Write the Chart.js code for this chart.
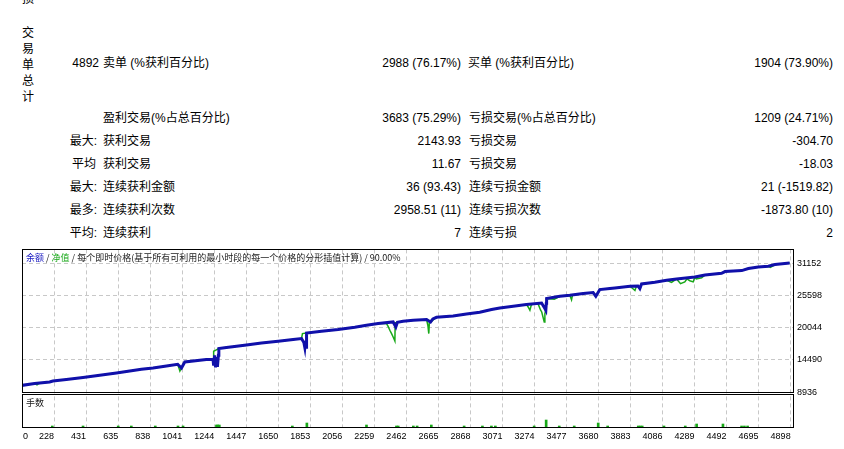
<!DOCTYPE html>
<html>
<head>
<meta charset="utf-8">
<script src="https://cdn.jsdelivr.net/npm/chart.js@4.4.1/dist/chart.umd.min.js"></script>
<style>
html,body{margin:0;padding:0;background:#fff;width:844px;height:449px;overflow:hidden;}
body{position:relative;font-family:"Liberation Sans","Noto Sans CJK SC",sans-serif;font-size:12px;color:#000;}
.t{position:absolute;white-space:nowrap;line-height:16px;}
.vert{position:absolute;left:22px;top:25px;width:12px;line-height:16px;word-break:break-all;}
#wrap{position:absolute;left:0;top:240px;width:844px;height:209px;}
.leg{position:absolute;font-family:"Noto Sans CJK SC",sans-serif;font-size:9px;line-height:11px;white-space:nowrap;color:#202020;}
</style>
</head>
<body>
<span class="t" style="left:22px;top:-9px">损</span>
<div class="vert">交易单总计</div>

<span class="t" style="right:745px;top:55px">4892</span>
<span class="t" style="left:103px;top:55px">卖单 (%获利百分比)</span>
<span class="t" style="right:383px;top:55px">2988 (76.17%)</span>
<span class="t" style="left:468px;top:55px">买单 (%获利百分比)</span>
<span class="t" style="right:11px;top:55px">1904 (73.90%)</span>

<span class="t" style="left:103px;top:110px">盈利交易(%占总百分比)</span>
<span class="t" style="right:383px;top:110px">3683 (75.29%)</span>
<span class="t" style="left:469px;top:110px">亏损交易(%占总百分比)</span>
<span class="t" style="right:11px;top:110px">1209 (24.71%)</span>

<span class="t" style="right:747px;top:133px">最大:</span>
<span class="t" style="left:103px;top:133px">获利交易</span>
<span class="t" style="right:383px;top:133px">2143.93</span>
<span class="t" style="left:469px;top:133px">亏损交易</span>
<span class="t" style="right:11px;top:133px">-304.70</span>

<span class="t" style="right:748px;top:156px">平均</span>
<span class="t" style="left:103px;top:156px">获利交易</span>
<span class="t" style="right:383px;top:156px">11.67</span>
<span class="t" style="left:469px;top:156px">亏损交易</span>
<span class="t" style="right:11px;top:156px">-18.03</span>

<span class="t" style="right:747px;top:179px">最大:</span>
<span class="t" style="left:103px;top:179px">连续获利金额</span>
<span class="t" style="right:383px;top:179px">36 (93.43)</span>
<span class="t" style="left:469px;top:179px">连续亏损金额</span>
<span class="t" style="right:11px;top:179px">21 (-1519.82)</span>

<span class="t" style="right:747px;top:202px">最多:</span>
<span class="t" style="left:103px;top:202px">连续获利次数</span>
<span class="t" style="right:383px;top:202px">2958.51 (11)</span>
<span class="t" style="left:469px;top:202px">连续亏损次数</span>
<span class="t" style="right:11px;top:202px">-1873.80 (10)</span>

<span class="t" style="right:747px;top:225px">平均:</span>
<span class="t" style="left:103px;top:225px">连续获利</span>
<span class="t" style="right:383px;top:225px">7</span>
<span class="t" style="left:469px;top:225px">连续亏损</span>
<span class="t" style="right:11px;top:225px">2</span>

<div id="wrap"><canvas id="c"></canvas></div>
<div class="leg" style="left:26px;top:252px"><span style="color:#1818c0">余额</span> / <span style="color:#18a818">净值</span> / 每个即时价格(基于所有可利用的最小时段的每一个价格的分形插值计算) / 90.00%</div>
<div class="leg" style="left:26px;top:397px">手数</div>

<script>
// ---- data ----
const xTickValues = [228,431,635,838,1041,1244,1447,1650,1853,2056,2259,2462,2665,2868,3071,3274,3477,3680,3883,4086,4289,4492,4695,4898];
const xFirstLabel = '0';
const yTickValues = [8936,14490,20044,25598,31152];

const balanceTrades = [0,105,200,221,306,412,518,624,708,782,856,941,1012,1036,1057,1194,1236,1240,1246,1252,1258,1264,1270,1273,1321,1385,1448,1543,1649,1744,1797,1812,1818,1822,1826,1829,1924,2029,2135,2209,2283,2378,2395,2405,2441,2505,2590,2615,2630,2653,2758,2843,2927,3002,3054,3139,3223,3319,3340,3346,3349,3351,3435,3498,3583,3646,3663,3688,3752,3784,3880,3930,3942,3953,4037,4112,4175,4291,4355,4460,4482,4588,4630,4693,4756,4799,4892];
const balanceValues = [10000,10407,10683,10857,11099,11445,11843,12241,12587,12881,13106,13452,13746,13106,14144,14559,14611,13500,15300,13227,15000,13300,15300,16462,16635,16860,17085,17431,17725,18019,18193,17500,16635,17800,16700,19162,19456,19750,20148,20494,20788,21065,20200,21000,21186,21359,21480,21065,21600,21878,22103,22449,22743,23210,23487,23781,24075,24352,23400,23089,24300,25113,25511,25684,25978,26151,25511,26670,26844,26947,27241,27293,26844,27639,27933,28279,28505,28851,29197,29491,29785,29958,30304,30581,30701,30996,31250];

const equityTrades = [0,105,120,130,200,221,306,412,518,624,708,782,856,941,1012,1020,1026,1036,1057,1194,1236,1240,1254,1273,1321,1385,1448,1543,1649,1744,1797,1803,1829,1924,2029,2135,2209,2283,2336,2346,2357,2368,2378,2389,2391,2395,2405,2441,2505,2590,2598,2604,2608,2615,2653,2758,2843,2927,3002,3054,3139,3223,3234,3245,3255,3297,3313,3320,3336,3340,3346,3351,3400,3420,3435,3498,3509,3515,3583,3646,3663,3688,3752,3784,3880,3911,3920,3930,3942,3953,4037,4112,4143,4175,4200,4227,4240,4259,4280,4291,4300,4334,4355,4460,4482,4588,4630,4693,4756,4770,4799,4892];
const equityValues = [10000,10407,10200,10407,10683,10857,11099,11445,11843,12241,12587,12881,13106,13452,13746,13100,12587,13106,14144,14559,14611,16000,16200,16462,16635,16860,17085,17431,17725,18019,18193,19057,19162,19456,19750,20148,20494,20788,20788,20300,19630,19050,18470,17777,21065,20200,21000,21186,21359,21480,20500,19057,21065,21065,21878,22103,22449,22743,23210,23487,23781,24075,23660,23089,24100,24200,23100,22795,21065,22500,23089,25113,25000,25300,25511,25684,24900,25700,25978,26151,25511,26670,26844,26947,27241,26500,27241,27293,26844,27639,27933,28279,27900,28505,27700,28000,28505,28200,28000,28851,28500,28700,29197,29491,29785,29958,30304,30581,30701,30500,30996,31250];

const lotTrades = [217,412,635,718,870,1014,1046,1258,1266,1276,1739,1831,2209,2399,2410,2506,2530,2620,2828,2944,3001,3026,3272,3348,3431,3526,3678,3738,3932,3944,3957,4095,4230,4302,4469,4587,4605,4625];
const lotValues = [0.1,0.1,0.1,0.1,0.1,0.1,0.1,0.2,0.2,0.2,0.1,0.4,0.2,0.1,0.1,0.1,0.1,0.2,0.1,0.1,0.1,0.1,0.1,0.7,0.1,0.1,0.4,0.1,0.1,0.1,0.1,0.1,0.1,0.3,0.3,0.1,0.1,0.1];

const BLUE = '#1010aa';
const GREEN = '#18a818';
const GRID = '#c8c8c8';
const tickFont = {family: '"Liberation Sans", Arial, sans-serif', size: 9};

const panelBoxes = {
  id: 'panelBoxes',
  beforeDraw(chart) {
    const s = chart.scales.x;
    const items = s.getLabelItems();
    if (items.length) {
      items[0].options.textAlign = 'left';
      items[0].options.translation[0] = s.left + 1;
    }
  },
  afterDraw(chart) {
    const {ctx, scales} = chart;
    const x = scales.x, y = scales.y, y2 = scales.y2;
    const L = Math.round(x.left) + 0.5, W = Math.round(x.right - x.left);
    ctx.save();
    ctx.strokeStyle = '#000';
    ctx.lineWidth = 1;
    ctx.strokeRect(L, Math.round(y.top) + 0.5, W, Math.round(y.bottom - y.top));
    ctx.strokeRect(L, Math.round(y2.top) + 2.5, W, Math.round(y2.bottom - y2.top) - 3);
    ctx.restore();
  }
};

new Chart(document.getElementById('c'), {
  type: 'line',
  data: {
    datasets: [
      {
        label: '余额',
        data: balanceTrades.map((t, i) => ({x: t, y: balanceValues[i]})),
        borderColor: BLUE, borderWidth: 3, pointRadius: 0, tension: 0,
        yAxisID: 'y', xAxisID: 'x'
      },
      {
        label: '净值',
        data: equityTrades.map((t, i) => ({x: t, y: equityValues[i]})),
        borderColor: GREEN, borderWidth: 1.5, pointRadius: 0, tension: 0,
        yAxisID: 'y', xAxisID: 'x'
      },
      {
        type: 'bar',
        label: '手数',
        data: lotTrades.map((t, i) => ({x: t, y: lotValues[i]})),
        backgroundColor: GREEN, borderWidth: 0, barThickness: 2,
        yAxisID: 'y2', xAxisID: 'x'
      }
    ]
  },
  options: {
    responsive: true,
    maintainAspectRatio: false,
    animation: false,
    devicePixelRatio: 1,
    layout: {padding: {left: 22, top: 9, right: 0, bottom: 0}},
    plugins: {legend: {display: false}, tooltip: {enabled: false}},
    scales: {
      x: {
        type: 'linear', position: 'bottom', min: 25, max: 4913, offset: false,
        afterBuildTicks: (s) => { s.ticks = [{value: 25}].concat(xTickValues.map(v => ({value: v}))); },
        afterFit: (s) => { s.height = 21; },
        ticks: {
          autoSkip: false, maxRotation: 0, minRotation: 0, align: 'end', padding: 3,
          color: '#000', font: tickFont,
          callback: (v, i) => i === 0 ? xFirstLabel : String(v)
        },
        grid: {
          offset: false, drawTicks: false, lineWidth: 1,
          color: (c) => c.index === 0 ? 'rgba(0,0,0,0)' : GRID
        },
        border: {display: false, dash: [4, 3]}
      },
      y: {
        type: 'linear', position: 'right', stack: 'v', stackWeight: 143, weight: 1,
        min: 8936, max: 33620,
        afterBuildTicks: (s) => { s.ticks = yTickValues.map(v => ({value: v})); },
        afterFit: (s) => { s.width = 51; },
        ticks: {padding: 4, color: '#000', font: tickFont, callback: (v) => String(v)},
        grid: {drawTicks: false, color: (c) => c.index === 0 ? 'rgba(0,0,0,0)' : GRID},
        border: {display: false, dash: [4, 3]}
      },
      y2: {
        type: 'linear', position: 'right', stack: 'v', stackWeight: 36, weight: 2,
        min: -0.1, max: 3.5, beginAtZero: false,
        afterFit: (s) => { s.width = 51; },
        ticks: {display: false},
        grid: {display: false, drawTicks: false},
        border: {display: false}
      }
    }
  },
  plugins: [panelBoxes]
});
</script>
</body>
</html>
